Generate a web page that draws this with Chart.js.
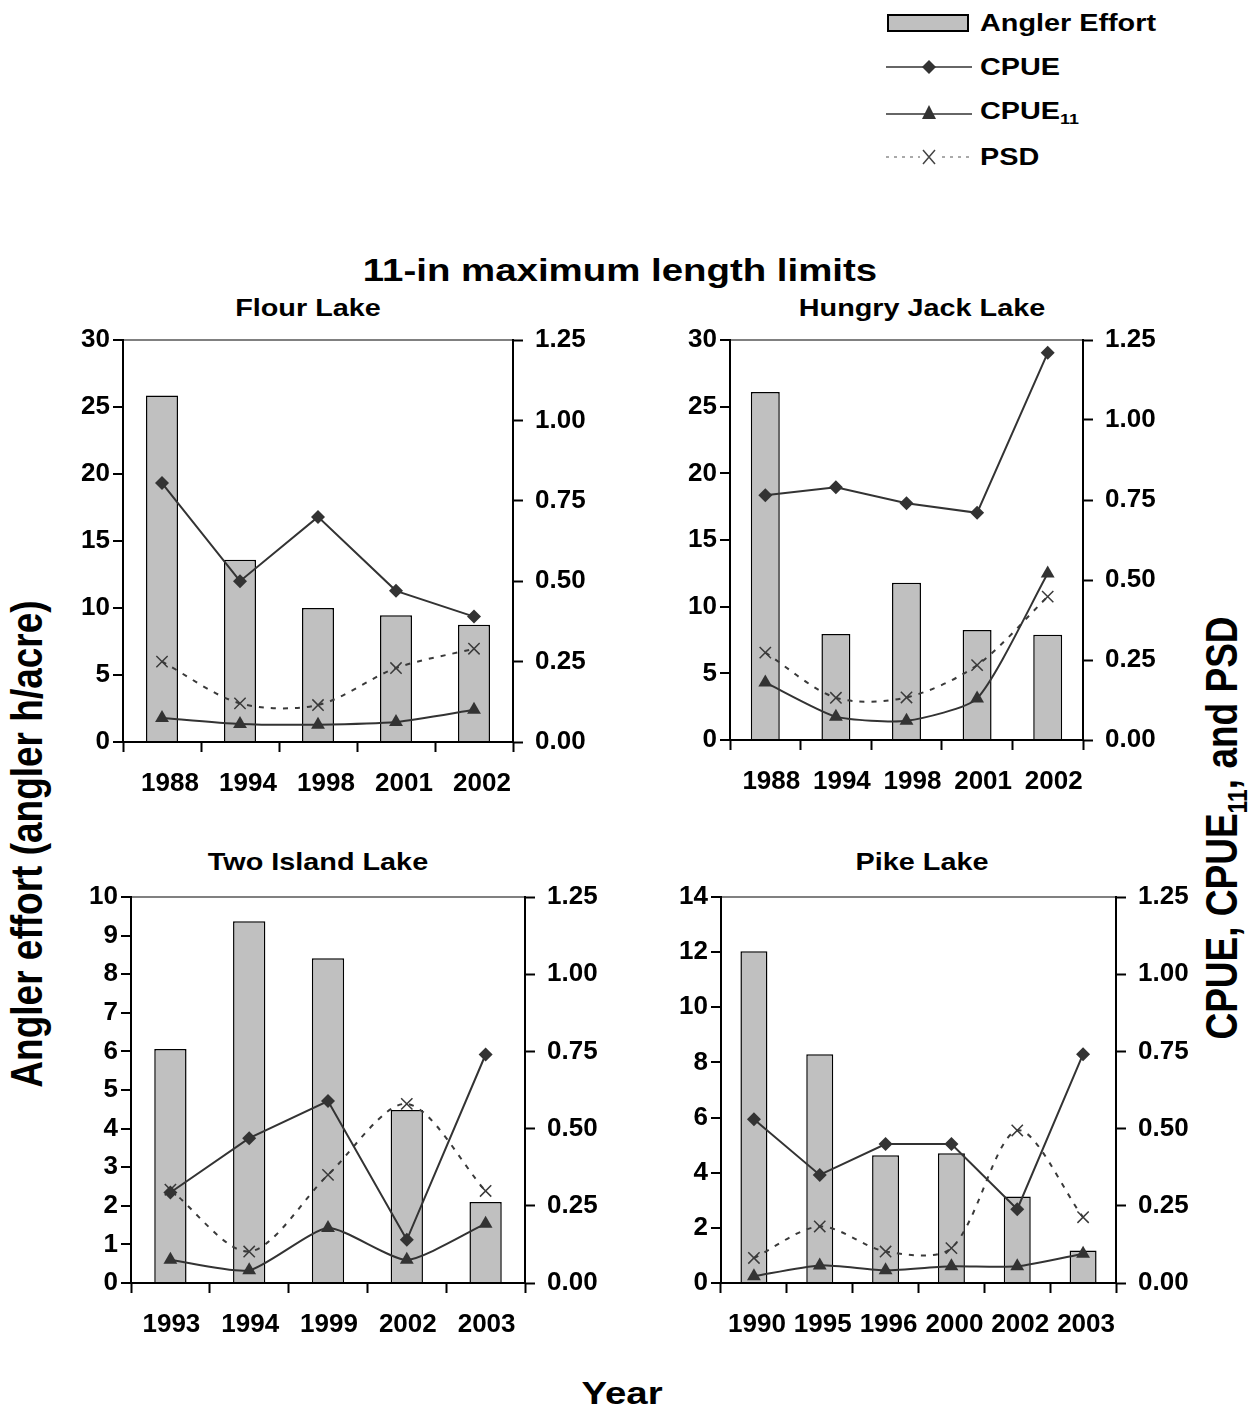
<!DOCTYPE html>
<html>
<head>
<meta charset="utf-8">
<script src="https://cdn.jsdelivr.net/npm/chart.js@4.4.1/dist/chart.umd.min.js"></script>
<style>
    body {
        margin: 0;
        width: 1257px;
        height: 1412px;
        background: #fff;
        position: relative;
        font-family: 'Liberation Sans', Arial, sans-serif;
        font-weight: bold;
        color: #000;
    }
    .abs { position: absolute; white-space: nowrap; }
    canvas { position: absolute; }
    .wide { transform: translate(-50%, -50%) scaleX(1.2); }
    .panel-title { font-size: 24px; }
    .legend-row { position: absolute; left: 886px; height: 30px; display: flex; align-items: center; font-size: 24px; }
    .legend-row svg { margin-right: 8px; }
    .legend-row span { display: inline-block; transform: scaleX(1.2); transform-origin: left center; }
    sub { font-size: 0.62em; vertical-align: -0.35em; }
</style>
</head>
<body>

<div class="legend-row" style="top: 8px;">
    <svg width="86" height="22"><rect x="2" y="3" width="80" height="16" fill="#c0c0c0" stroke="#000" stroke-width="2"/></svg><span>Angler Effort</span>
</div>
<div class="legend-row" style="top: 52px;">
    <svg width="86" height="22"><line x1="0" y1="11" x2="86" y2="11" stroke="#333" stroke-width="1.5"/><polygon points="43,4 50,11 43,18 36,11" fill="#333"/></svg><span>CPUE</span>
</div>
<div class="legend-row" style="top: 97px;">
    <svg width="86" height="22"><line x1="0" y1="13" x2="86" y2="13" stroke="#333" stroke-width="1.5"/><polygon points="43,4 50,18 36,18" fill="#333"/></svg><span>CPUE<sub>11</sub></span>
</div>
<div class="legend-row" style="top: 142px;">
    <svg width="86" height="22"><line x1="0" y1="11" x2="86" y2="11" stroke="#555" stroke-width="1" stroke-dasharray="3,5"/><rect x="34" y="3" width="18" height="16" fill="#fff"/><path d="M37 4 L49 18 M49 4 L37 18" stroke="#444" stroke-width="1.5"/></svg><span>PSD</span>
</div>

<div class="abs wide" style="left: 620px; top: 270px; font-size: 32px;">11-in maximum length limits</div>
<div class="abs" style="left: 28px; top: 844px; font-size: 37px; transform: translate(-50%, -50%) scaleX(1.2) rotate(-90deg);">Angler effort (angler h/acre)</div>
<div class="abs" style="left: 1226px; top: 828px; font-size: 37px; transform: translate(-50%, -50%) scaleX(1.2) rotate(-90deg);">CPUE, CPUE<sub>11</sub>, and PSD</div>
<div class="abs wide" style="left: 622px; top: 1393px; font-size: 32px;">Year</div>

<script>
// Flour Lake
const flourYears = ['1988', '1994', '1998', '2001', '2002'];
const flourEffort = [25.85, 13.6, 10.0, 9.45, 8.75];
const flourCpue = [0.805, 0.50, 0.70, 0.47, 0.39];
const flourCpue11 = [0.075, 0.056, 0.054, 0.062, 0.10];
const flourPsd = [0.25, 0.12, 0.115, 0.23, 0.29];

// Hungry Jack Lake
const hungryYears = ['1988', '1994', '1998', '2001', '2002'];
const hungryEffort = [26.1, 7.95, 11.8, 8.25, 7.9];
const hungryCpue = [0.765, 0.79, 0.74, 0.71, 1.21];
const hungryCpue11 = [0.18, 0.073, 0.06, 0.13, 0.52];
const hungryPsd = [0.273, 0.132, 0.133, 0.234, 0.448];

// Two Island Lake
const twoIslandYears = ['1993', '1994', '1999', '2002', '2003'];
const twoIslandEffort = [6.06, 9.37, 8.41, 4.48, 2.1];
const twoIslandCpue = [0.293, 0.469, 0.589, 0.14, 0.74];
const twoIslandCpue11 = [0.075, 0.041, 0.178, 0.075, 0.192];
const twoIslandPsd = [0.302, 0.102, 0.35, 0.58, 0.298];

// Pike Lake
const pikeYears = ['1990', '1995', '1996', '2000', '2002', '2003'];
const pikeEffort = [12.03, 8.3, 4.63, 4.71, 3.14, 1.18];
const pikeCpue = [0.53, 0.35, 0.45, 0.45, 0.239, 0.741];
const pikeCpue11 = [0.022, 0.057, 0.041, 0.054, 0.054, 0.095];
const pikePsd = [0.081, 0.183, 0.102, 0.113, 0.494, 0.213];

const rightMax = 1.25;
const rightStep = 0.25;

const font = 'Liberation Sans, Arial, sans-serif';
const lineColor = '#333';

const panels = [
    { title: 'Flour Lake', years: flourYears, effort: flourEffort, cpue: flourCpue, cpue11: flourCpue11, psd: flourPsd,
      leftMax: 30, leftStep: 5, box: { left: 123, right: 513, top: 340, bottom: 742 }, titleX: 308, titleY: 308, labelShift: 8 },
    { title: 'Hungry Jack Lake', years: hungryYears, effort: hungryEffort, cpue: hungryCpue, cpue11: hungryCpue11, psd: hungryPsd,
      leftMax: 30, leftStep: 5, box: { left: 730, right: 1083, top: 340, bottom: 740 }, titleX: 922, titleY: 308, labelShift: 6 },
    { title: 'Two Island Lake', years: twoIslandYears, effort: twoIslandEffort, cpue: twoIslandCpue, cpue11: twoIslandCpue11, psd: twoIslandPsd,
      leftMax: 10, leftStep: 1, box: { left: 131, right: 525, top: 897, bottom: 1283 }, titleX: 318, titleY: 862, labelShift: 1 },
    { title: 'Pike Lake', years: pikeYears, effort: pikeEffort, cpue: pikeCpue, cpue11: pikeCpue11, psd: pikePsd,
      leftMax: 14, leftStep: 2, box: { left: 721, right: 1116, top: 897, bottom: 1283 }, titleX: 922, titleY: 862, labelShift: 3 },
];

const sideW = 100;
const topPad = 20;
const xAxisH = 70;

// fixed axis sizes, so the plot box lands where the layout says
const fitSide = (scale) => {
    scale.width = sideW;
    scale.paddingTop = 0;
    scale.paddingBottom = 0;
};
const fitBottom = (scale) => {
    scale.height = xAxisH;
    scale.paddingLeft = 0;
    scale.paddingRight = 0;
};

panels.forEach((panel, i) => {
    const b = panel.box;
    const plotW = b.right - b.left;
    const plotH = b.bottom - b.top;

    const title = document.createElement('div');
    title.className = 'abs wide panel-title';
    title.style.left = panel.titleX + 'px';
    title.style.top = panel.titleY + 'px';
    title.textContent = panel.title;
    document.body.appendChild(title);

    const canvas = document.createElement('canvas');
    canvas.id = 'panel_chart_' + i;
    canvas.width = plotW + sideW * 2;
    canvas.height = plotH + topPad + xAxisH;
    canvas.style.left = (b.left - sideW) + 'px';
    canvas.style.top = (b.top - topPad) + 'px';
    canvas.style.width = canvas.width + 'px';
    canvas.style.height = canvas.height + 'px';
    document.body.appendChild(canvas);

    const panelConfig = {
        data: {
            labels: panel.years,
            datasets: [{
                type: 'bar',
                label: 'Angler Effort',
                data: panel.effort,
                yAxisID: 'yLeft',
                backgroundColor: '#c0c0c0',
                borderColor: '#000',
                borderWidth: 1.5,
                barPercentage: 0.41,
                categoryPercentage: 1,
                order: 10,
            }, {
                type: 'line',
                label: 'CPUE',
                data: panel.cpue,
                yAxisID: 'yRight',
                borderColor: lineColor,
                borderWidth: 2,
                backgroundColor: lineColor,
                pointStyle: 'rectRot',
                pointRadius: 7,
                pointBorderWidth: 0,
                tension: 0,
                order: 1,
            }, {
                type: 'line',
                label: 'CPUE11',
                data: panel.cpue11,
                yAxisID: 'yRight',
                borderColor: lineColor,
                borderWidth: 2,
                backgroundColor: lineColor,
                pointStyle: 'triangle',
                pointRadius: 8,
                pointBorderWidth: 0,
                tension: 0.2,
                order: 2,
            }, {
                type: 'line',
                label: 'PSD',
                data: panel.psd,
                yAxisID: 'yRight',
                borderColor: '#3a3a3a',
                borderWidth: 2,
                borderDash: [5, 7],
                backgroundColor: '#3a3a3a',
                pointStyle: 'crossRot',
                pointRadius: 8,
                pointBorderWidth: 1.5,
                tension: 0.3,
                order: 3,
            }],
        },
        options: {
            animation: {
                duration: 0,
            },
            responsive: false,
            layout: {
                padding: { top: topPad, bottom: 0, left: 0, right: 0 },
            },
            plugins: {
                legend: {
                    display: false,
                },
                tooltip: {
                    enabled: false,
                },
            },
            scales: {
                x: {
                    offset: true,
                    grid: {
                        offset: true,
                        drawOnChartArea: false,
                        drawTicks: true,
                        tickLength: 10,
                        tickColor: '#000',
                        tickWidth: 2,
                    },
                    border: { color: '#000', width: 2 },
                    ticks: {
                        autoSkip: false,
                        maxRotation: 0,
                        padding: 16,
                        labelOffset: panel.labelShift,
                        color: '#000',
                        font: { family: font, size: 26, weight: 'bold' },
                    },
                    afterFit: fitBottom,
                },
                yLeft: {
                    position: 'left',
                    min: 0,
                    max: panel.leftMax,
                    grid: {
                        drawTicks: true,
                        tickLength: 10,
                        tickColor: '#000',
                        tickWidth: 2,
                        color: (ctx) => ctx.tick && ctx.tick.value === panel.leftMax ? '#808080' : 'transparent',
                        lineWidth: 2,
                    },
                    border: { color: '#000', width: 2 },
                    ticks: {
                        stepSize: panel.leftStep,
                        padding: 3,
                        color: '#000',
                        font: { family: font, size: 26, weight: 'bold' },
                    },
                    afterFit: fitSide,
                },
                yRight: {
                    position: 'right',
                    min: 0,
                    max: rightMax,
                    grid: {
                        drawOnChartArea: false,
                        drawTicks: true,
                        tickLength: 10,
                        tickColor: '#000',
                        tickWidth: 2,
                    },
                    border: { color: '#000', width: 2 },
                    ticks: {
                        stepSize: rightStep,
                        padding: 12,
                        color: '#000',
                        font: { family: font, size: 26, weight: 'bold' },
                        callback: (value) => value.toFixed(2),
                    },
                    afterFit: fitSide,
                },
            },
        },
    };
    const panelChart = new Chart(canvas, panelConfig);
});
</script>
</body>
</html>
